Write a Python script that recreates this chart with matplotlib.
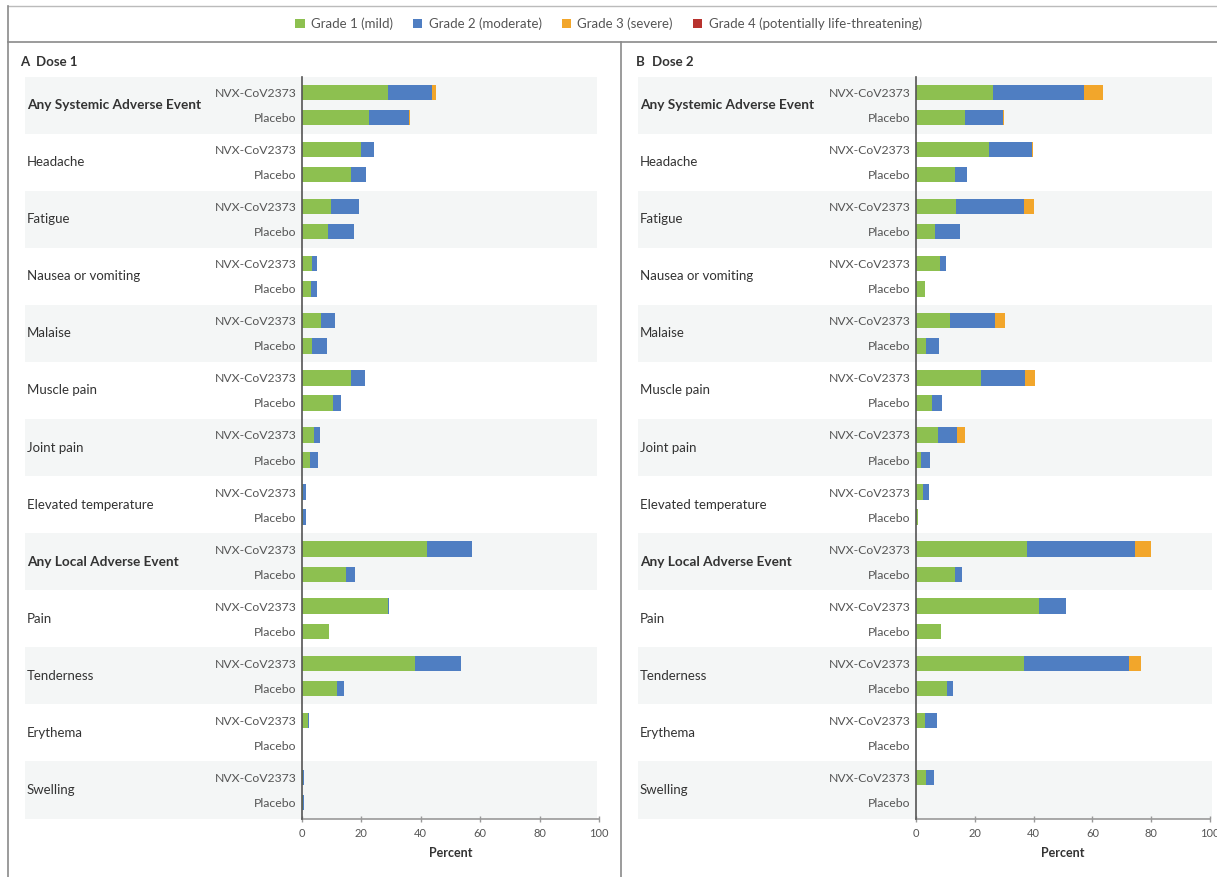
import matplotlib
matplotlib.use("Agg")
import matplotlib.pyplot as plt
from matplotlib.patches import Rectangle
from matplotlib.lines import Line2D
from matplotlib.transforms import blended_transform_factory

plt.rcParams['font.family'] = ['Lato', 'DejaVu Sans']

# categories, top to bottom
categories = ["Any Systemic Adverse Event", "Headache", "Fatigue", "Nausea or vomiting",
              "Malaise", "Muscle pain", "Joint pain", "Elevated temperature",
              "Any Local Adverse Event", "Pain", "Tenderness", "Erythema", "Swelling"]
bold_cats = ["Any Systemic Adverse Event", "Any Local Adverse Event"]
groups = ["NVX-CoV2373", "Placebo"]
grade_labels = ["Grade 1 (mild)", "Grade 2 (moderate)", "Grade 3 (severe)",
                "Grade 4 (potentially life-threatening)"]
grade_colors = ["#8dc050", "#4f7ec2", "#f2a62b", "#b8322e"]
ticks = [0, 20, 40, 60, 80, 100]

# Dose 1 - segment widths (percent) per grade
d1_nvx_g1 = [28.9, 19.8, 9.9, 3.2, 6.3, 16.4, 4.2, 0.5, 42.0, 28.9, 38.0, 2.0, 0.5]
d1_nvx_g2 = [14.8, 4.5, 9.3, 1.8, 4.7, 4.9, 1.9, 1.0, 15.3, 0.3, 15.6, 0.2, 0.3]
d1_nvx_g3 = [1.5, 0, 0, 0, 0, 0, 0, 0, 0, 0, 0, 0, 0]
d1_nvx_g4 = [0, 0, 0, 0, 0, 0, 0, 0, 0, 0, 0, 0, 0]
d1_pbo_g1 = [22.4, 16.4, 8.8, 3.0, 3.3, 10.3, 2.7, 0.5, 14.7, 9.0, 11.8, 0, 0.3]
d1_pbo_g2 = [13.7, 5.1, 8.8, 2.0, 5.1, 2.7, 2.7, 1.0, 3.2, 0, 2.3, 0, 0.3]
d1_pbo_g3 = [0.3, 0, 0, 0, 0, 0, 0, 0, 0, 0, 0, 0, 0]
d1_pbo_g4 = [0, 0, 0, 0, 0, 0, 0, 0, 0, 0, 0, 0, 0]

# Dose 2
d2_nvx_g1 = [26.1, 24.7, 13.5, 8.1, 11.6, 22.2, 7.6, 2.4, 37.9, 41.7, 36.8, 3.0, 3.5]
d2_nvx_g2 = [30.9, 14.7, 23.3, 2.0, 15.4, 14.9, 6.2, 2.0, 36.7, 9.2, 35.5, 4.3, 2.7]
d2_nvx_g3 = [6.7, 0.5, 3.4, 0, 3.2, 3.4, 2.9, 0, 5.4, 0, 4.2, 0, 0]
d2_nvx_g4 = [0, 0, 0, 0, 0, 0, 0, 0, 0, 0, 0, 0, 0]
d2_pbo_g1 = [16.5, 13.3, 6.4, 3.2, 3.5, 5.5, 1.8, 0.7, 13.3, 8.4, 10.4, 0, 0]
d2_pbo_g2 = [13.1, 4.0, 8.6, 0, 4.3, 3.5, 2.9, 0, 2.5, 0, 2.3, 0, 0]
d2_pbo_g3 = [0.3, 0, 0, 0, 0, 0, 0, 0, 0, 0, 0, 0, 0]
d2_pbo_g4 = [0, 0, 0, 0, 0, 0, 0, 0, 0, 0, 0, 0, 0]

W, H = 1217, 877
fig = plt.figure(figsize=(W / 100, H / 100), dpi=100)

band_color = "#f4f6f6"
text_color = "#333333"
bar_h = 0.27
off = 0.22

panels = [
    dict(letter="A", title="Dose 1", ax_left=302, ax_w=297, band_l=25, band_r=597, cat_x=27, title_x=20,
         nvx=[d1_nvx_g1, d1_nvx_g2, d1_nvx_g3, d1_nvx_g4], pbo=[d1_pbo_g1, d1_pbo_g2, d1_pbo_g3, d1_pbo_g4]),
    dict(letter="B", title="Dose 2", ax_left=916, ax_w=294, band_l=638, band_r=1212, cat_x=640, title_x=636,
         nvx=[d2_nvx_g1, d2_nvx_g2, d2_nvx_g3, d2_nvx_g4], pbo=[d2_pbo_g1, d2_pbo_g2, d2_pbo_g3, d2_pbo_g4]),
]

top_px, bot_px = 76.5, 818.5
handles = None
for p in panels:
    ax = fig.add_axes([p["ax_left"] / W, 1 - bot_px / H, p["ax_w"] / W, (bot_px - top_px) / H])
    ax.patch.set_alpha(0)
    n = len(categories)
    y_cat = list(range(n))
    y_nvx = [y - off for y in y_cat]
    y_pbo = [y + off for y in y_cat]

    # shaded bands behind every other category
    tr = blended_transform_factory(ax.transAxes, ax.transData)
    bl = (p["band_l"] - p["ax_left"]) / p["ax_w"]
    bw = (p["band_r"] - p["band_l"]) / p["ax_w"]
    for i in range(0, n, 2):
        ax.add_patch(Rectangle((bl, i - 0.5), bw, 1.0, transform=tr, facecolor=band_color,
                               edgecolor="none", zorder=0, clip_on=False))

    # stacked bars
    hs = []
    for ys, grades in ((y_nvx, p["nvx"]), (y_pbo, p["pbo"])):
        left = [0.0] * n
        for g, vals in enumerate(grades):
            b = ax.barh(ys, vals, left=left, height=bar_h, color=grade_colors[g],
                        edgecolor="none", zorder=2, label=grade_labels[g])
            hs.append(b)
            left = [l + v for l, v in zip(left, vals)]
    if handles is None:
        handles = hs[:4]

    ax.set_xlim(0, 100)
    ax.set_ylim(n - 0.5, -0.5)
    ax.set_xticks(ticks)
    ax.set_xticklabels([str(t) for t in ticks], fontsize=8, color="#555555")
    ax.tick_params(axis="x", direction="inout", length=5, width=1, color="#999999", pad=4)
    ax.set_yticks(y_nvx + y_pbo)
    ax.set_yticklabels([groups[0]] * n + [groups[1]] * n, fontsize=8.8, color="#555555")
    ax.tick_params(axis="y", length=0, pad=4)
    ax.set_xlabel("Percent", fontsize=9, fontweight="bold", color=text_color, labelpad=6)
    for s in ("top", "right"):
        ax.spines[s].set_visible(False)
    ax.spines["left"].set_color("#555555")
    ax.spines["left"].set_linewidth(1.2)
    ax.spines["left"].set_zorder(3)
    ax.spines["bottom"].set_color("#999999")
    ax.spines["bottom"].set_linewidth(1.2)

    # category labels at left of the panel
    trc = blended_transform_factory(fig.transFigure, ax.transData)
    for i, c in enumerate(categories):
        ax.text(p["cat_x"] / W, i, c, transform=trc, ha="left", va="center",
                fontsize=9.8 if c in bold_cats else 9.5,
                fontweight="bold" if c in bold_cats else "normal", color=text_color)

    fig.text(p["title_x"] / W, 1 - 62 / H, p["letter"], fontsize=9.5, fontweight="bold",
             color=text_color, ha="left", va="center")
    fig.text((p["title_x"] + 16) / W, 1 - 62 / H, p["title"], fontsize=9.5, fontweight="bold",
             color=text_color, ha="left", va="center")

fig.legend(handles, grade_labels, loc="center", bbox_to_anchor=(0.5, 1 - 24 / H), ncol=4,
           frameon=False, fontsize=9.5, handlelength=0.7, handleheight=0.7,
           handletextpad=0.5, columnspacing=1.5, labelcolor="#555555")

# panel frame lines
line_c = "#8a8a8a"
fig.add_artist(Line2D([8 / W, 1], [1 - 6 / H, 1 - 6 / H], color="#bbbbbb", lw=1))
fig.add_artist(Line2D([8 / W, 1], [1 - 42 / H, 1 - 42 / H], color=line_c, lw=1.2))
fig.add_artist(Line2D([8 / W, 8 / W], [0, 1 - 6 / H], color=line_c, lw=1.2))
fig.add_artist(Line2D([621 / W, 621 / W], [0, 1 - 42 / H], color=line_c, lw=1.2))

fig.savefig("out.png", dpi=100, facecolor="white")
